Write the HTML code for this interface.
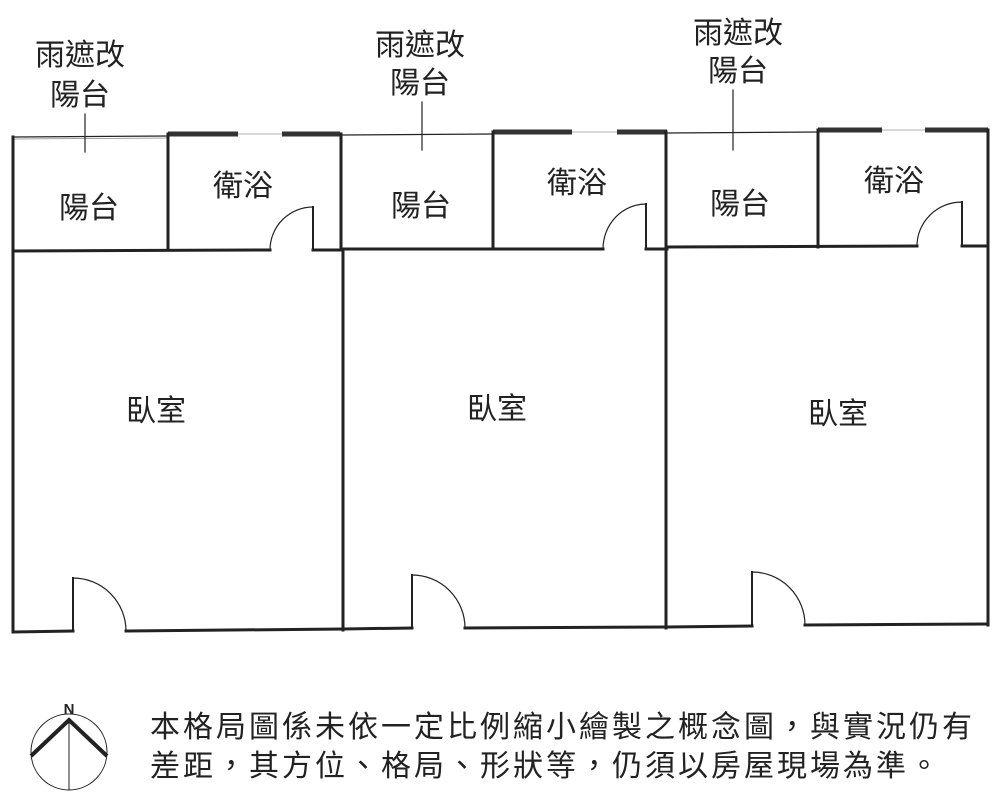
<!DOCTYPE html>
<html><head><meta charset="utf-8"><style>
html,body{margin:0;padding:0;background:#fff;width:1000px;height:808px;overflow:hidden}
svg{display:block}
text{font-family:"Liberation Sans","Noto Sans CJK TC",sans-serif;fill:#222}
</style></head><body>
<svg width="1000" height="808" viewBox="0 0 1000 808">
<g stroke="#222" fill="none" stroke-linecap="square">
<line x1="13" y1="137" x2="168" y2="136" stroke-width="1.2"/>
<line x1="13" y1="139" x2="168" y2="138" stroke-width="0.8" stroke="#888"/>
<line x1="343" y1="135" x2="493" y2="134" stroke-width="1.2"/>
<line x1="667" y1="133" x2="818" y2="132" stroke-width="1.2"/>
<line x1="238" y1="134" x2="282" y2="134" stroke-width="0.8" stroke="#999"/>
<line x1="572" y1="132" x2="617" y2="132" stroke-width="0.8" stroke="#999"/>
<line x1="882" y1="130" x2="925" y2="130" stroke-width="0.8" stroke="#999"/>
<g stroke-width="5" stroke="#333" stroke-linecap="butt">
<line x1="168" y1="134" x2="238" y2="134"/><line x1="282" y1="134" x2="340" y2="134"/>
<line x1="493" y1="132" x2="572" y2="132"/><line x1="617" y1="132" x2="667" y2="132"/>
<line x1="818" y1="130" x2="882" y2="130"/><line x1="925" y1="130" x2="988" y2="130"/>
</g>
<g stroke-width="3">
<line x1="13" y1="137" x2="13" y2="632"/>
<line x1="168" y1="134" x2="168" y2="250"/>
<line x1="341" y1="134" x2="341" y2="250"/>
<line x1="343" y1="250" x2="343" y2="630"/>
<line x1="493" y1="132" x2="493" y2="249"/>
<line x1="666" y1="132" x2="666" y2="628"/>
<line x1="818" y1="130" x2="818" y2="247"/>
<line x1="988" y1="130" x2="988" y2="625"/>
<line x1="13" y1="251" x2="270" y2="250"/><line x1="313" y1="250" x2="343" y2="250"/>
<line x1="343" y1="249" x2="603" y2="249"/><line x1="646" y1="249" x2="667" y2="249"/>
<line x1="667" y1="247" x2="917" y2="246"/><line x1="962" y1="246" x2="988" y2="246"/>
<line x1="13" y1="632" x2="73" y2="631"/><line x1="126" y1="631" x2="343" y2="629"/>
<line x1="343" y1="629" x2="412" y2="628"/><line x1="465" y1="628" x2="667" y2="627"/>
<line x1="667" y1="627" x2="752" y2="626"/><line x1="805" y1="625" x2="988" y2="624"/>
</g>
<g stroke-width="2">
<line x1="313" y1="207" x2="313" y2="250"/>
<line x1="646" y1="204" x2="646" y2="249"/>
<line x1="962" y1="202" x2="962" y2="246"/>
<line x1="73" y1="578" x2="73" y2="631"/>
<line x1="412" y1="575" x2="412" y2="628"/>
<line x1="752" y1="572" x2="752" y2="626"/>
</g>
<g stroke-width="1.2">
<path d="M313 207 A43 43 0 0 0 270 250"/>
<path d="M646 204 A43 45 0 0 0 603 249"/>
<path d="M962 202 A45 44 0 0 0 917 246"/>
<path d="M73 578 A53 53 0 0 1 126 631"/>
<path d="M412 575 A53 53 0 0 1 465 628"/>
<path d="M752 572 A53 53 0 0 1 805 625"/>
<line x1="85" y1="114" x2="85" y2="152"/>
<line x1="422" y1="102" x2="422" y2="150"/>
<line x1="733" y1="90" x2="733" y2="150"/>
</g>
<circle cx="69" cy="752" r="38" stroke-width="1"/>
<line x1="69" y1="720" x2="69" y2="790" stroke-width="1"/>
<path d="M31 756 L69 720 L107 756" stroke-width="4" stroke-linecap="butt"/>
</g>
<g font-size="30">
<text x="80" y="65" text-anchor="middle">雨遮改</text>
<text x="80" y="105" text-anchor="middle">陽台</text>
<text x="420" y="55" text-anchor="middle">雨遮改</text>
<text x="420" y="93" text-anchor="middle">陽台</text>
<text x="738" y="43" text-anchor="middle">雨遮改</text>
<text x="738" y="81" text-anchor="middle">陽台</text>
<text x="89" y="218" text-anchor="middle">陽台</text>
<text x="243" y="196" text-anchor="middle">衛浴</text>
<text x="421" y="216" text-anchor="middle">陽台</text>
<text x="577" y="193" text-anchor="middle">衛浴</text>
<text x="740" y="214" text-anchor="middle">陽台</text>
<text x="894" y="191" text-anchor="middle">衛浴</text>
<text x="156" y="421" text-anchor="middle">臥室</text>
<text x="497" y="419" text-anchor="middle">臥室</text>
<text x="838" y="424" text-anchor="middle">臥室</text>
<text x="150" y="737" font-size="30" letter-spacing="3">本格局圖係未依一定比例縮小繪製之概念圖，與實況仍有</text>
<text x="150" y="776" font-size="30" letter-spacing="3">差距，其方位、格局、形狀等，仍須以房屋現場為準。</text>
</g>
<text x="69" y="714" font-size="15" font-weight="bold" text-anchor="middle">N</text>
</svg>
</body></html>
